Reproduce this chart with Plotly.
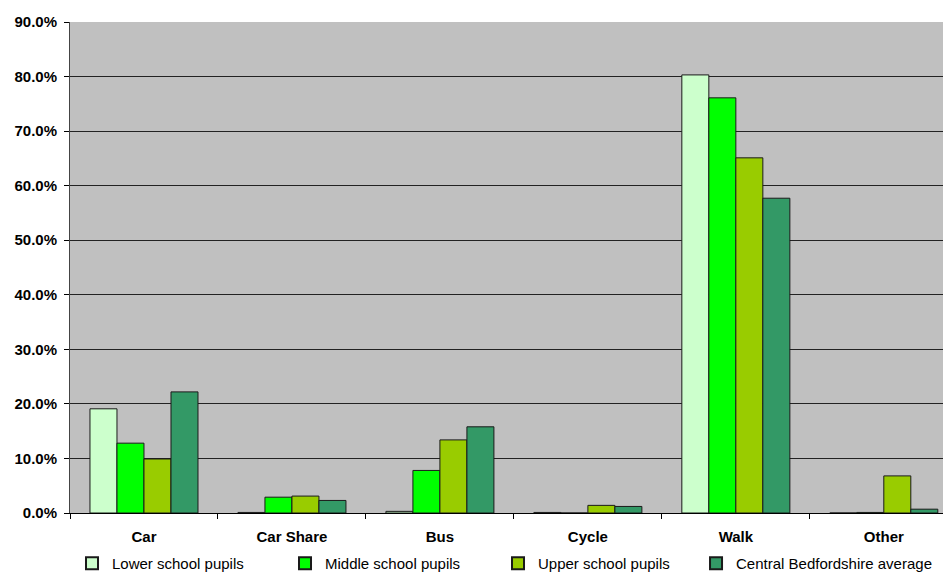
import plotly.graph_objects as go

categories = ["Car", "Car Share", "Bus", "Cycle", "Walk", "Other"]
series_names = ["Lower school pupils", "Middle school pupils",
                "Upper school pupils", "Central Bedfordshire average"]
lower = [19.1, 0.1, 0.3, 0.1, 80.3, 0.0]
middle = [12.8, 2.9, 7.8, 0.0, 76.1, 0.1]
upper = [9.9, 3.1, 13.4, 1.4, 65.1, 6.8]
central = [22.2, 2.3, 15.8, 1.2, 57.7, 0.7]
colors = ["#CCFFCC", "#00FF00", "#99CC00", "#339966"]
y_ticks = [0, 10, 20, 30, 40, 50, 60, 70, 80, 90]
legend_ids = ["legend", "legend", "legend", "legend2"]

fig = go.Figure()
for name, vals, col, lg in zip(series_names, [lower, middle, upper, central], colors, legend_ids):
    fig.add_trace(go.Bar(
        x=categories, y=vals, name=name, legend=lg,
        marker=dict(color=col, line=dict(color="#1a1a1a", width=1)),
    ))

legend_common = dict(
    orientation="h",
    xanchor="left",
    y=-0.069, yanchor="top",
    font=dict(size=15, color="black", family="Liberation Sans, Arial, sans-serif"),
    itemsizing="constant",
    bgcolor="rgba(0,0,0,0)",
    tracegroupgap=0,
)

fig.update_layout(
    width=943, height=572,
    margin=dict(l=70, r=0, t=22, b=59, autoexpand=False),
    paper_bgcolor="white",
    plot_bgcolor="#C0C0C0",
    barmode="group",
    bargap=0.27,
    bargroupgap=0,
    font=dict(family="Liberation Sans, Arial, sans-serif", color="black"),
    showlegend=True,
    legend=dict(x=0.0023, entrywidth=168, entrywidthmode="pixels", **legend_common),
    legend2=dict(x=0.7171, **legend_common),
)

fig.update_xaxes(
    type="category",
    range=[-0.5, 5.4],
    showline=True, linecolor="black", linewidth=1,
    ticks="outside", ticklen=5, tickcolor="black",
    tickson="boundaries",
    showgrid=False,
    tickfont=dict(size=15, family="Liberation Sans, Arial, sans-serif", color="black", weight="bold"),
    ticklabelstandoff=10,
)

fig.update_yaxes(
    range=[0, 90],
    tickvals=y_ticks,
    ticktext=[f"{v:.1f}%" for v in y_ticks],
    showline=True, linecolor="#444444", linewidth=1,
    ticks="outside", ticklen=5, tickcolor="black",
    showgrid=True, gridcolor="#222222", gridwidth=1,
    zeroline=False,
    tickfont=dict(size=15, family="Liberation Sans, Arial, sans-serif", color="black", weight="bold"),
    ticklabelstandoff=4,
)

fig.write_html("out.html")
